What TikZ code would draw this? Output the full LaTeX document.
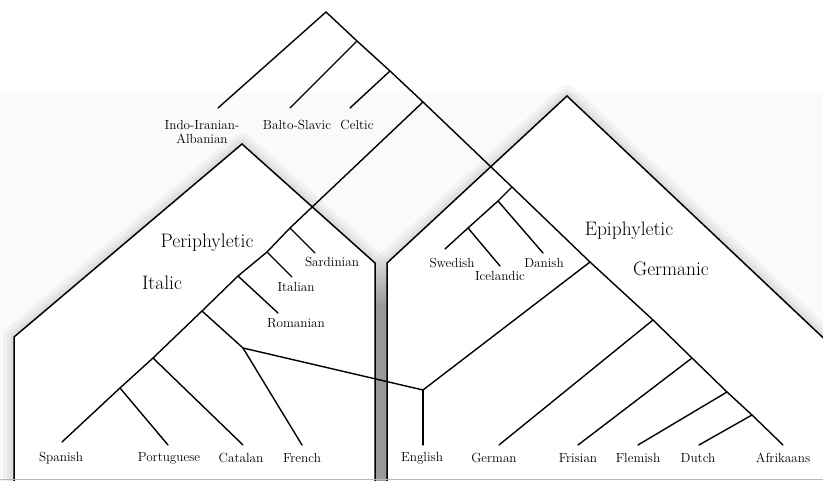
\documentclass[tikz,border=0pt]{standalone}
\begin{document}
\begin{tikzpicture}[x=1pt,y=-1pt,
  branch/.style={line width=1.4pt, line cap=round},
  house/.style={line width=1.5pt, fill=white, line join=miter},
  glow/.style={line width=#1, draw=black, opacity=0.035, line join=round},
  lang/.style={font=\fontsize{13.2}{14}\selectfont, inner sep=0pt, align=center},
  group/.style={font=\fontsize{19.5}{22}\selectfont, inner sep=0pt}]

\useasboundingbox (0,0) rectangle (823,481);
\clip (0,0) rectangle (823,481);
% \draw [help lines, step=50] (0,0) grid (823,481);

\fill[gray!4] (0,93) rectangle (823,481);

% gap between the two houses
\shade[top color=gray!6, bottom color=gray!60] (375,263) rectangle (387,305);
\fill[gray!60] (375,305) rectangle (387,481);

% soft shadows
\foreach \w in {22,14,8} {
  \draw[glow=\w pt] (14,490) -- (14,337) -- (242,144) -- (375,263) -- (375,490);
  \draw[glow=\w pt] (387,490) -- (387,263) -- (567,96) -- (870,382);
}

% the two houses
\draw[house] (14,490) -- (14,337) -- (242,144) -- (375,263) -- (375,490);
\draw[house] (387,490) -- (387,263) -- (567,96) -- (870,382) -- (870,490);

\draw[gray!55, line width=1pt] (0,479.5) -- (823,479.5);

% top of the tree
\coordinate (ie) at (326,12);
\coordinate (bs) at (357,41);
\coordinate (ce) at (390,71);
\coordinate (ig) at (423,102);
\coordinate (iiat) at (218,108);
\coordinate (bst) at (290,108);
\coordinate (cet) at (350,108);

% italic side
\coordinate (sa) at (290,228);
\coordinate (it) at (267,252);
\coordinate (ro) at (238,276);
\coordinate (wr) at (202,311);
\coordinate (ca) at (153,358);
\coordinate (pt) at (120,388);
\coordinate (est) at (62,442);
\coordinate (sat) at (315,253);
\coordinate (itt) at (292,277);
\coordinate (rot) at (278,313);
\coordinate (fr) at (243,348);
\coordinate (frt) at (302,445);
\coordinate (cat) at (243,445);
\coordinate (ptt) at (168,445);

% germanic side
\coordinate (sc) at (512,187);
\coordinate (da) at (498,201);
\coordinate (is) at (468,228);
\coordinate (svt) at (445,249);
\coordinate (dat) at (543,253);
\coordinate (ist) at (500,266);
\coordinate (gm) at (590,262);
\coordinate (de) at (653,320);
\coordinate (fy) at (692,358);
\coordinate (vl) at (727,392);
\coordinate (nl) at (752,415);
\coordinate (aft) at (783,445);
\coordinate (en) at (423,390);
\coordinate (ent) at (423,445);
\coordinate (det) at (499,445);
\coordinate (fyt) at (578,445);
\coordinate (vlt) at (638,445);
\coordinate (nlt) at (699,445);

\draw[branch] (iiat) -- (ie) -- (bs) -- (ce) -- (ig);
\draw[branch] (bs) -- (bst);
\draw[branch] (ce) -- (cet);

\draw[branch] (ig) -- (sa) -- (it) -- (ro) -- (wr) -- (ca) -- (pt) -- (est);
\draw[branch] (sa) -- (sat);
\draw[branch] (it) -- (itt);
\draw[branch] (ro) -- (rot);
\draw[branch] (wr) -- (fr) -- (frt);
\draw[branch] (ca) -- (cat);
\draw[branch] (pt) -- (ptt);

\draw[branch] (ig) -- (sc) -- (gm) -- (de) -- (fy) -- (vl) -- (nl) -- (aft);
\draw[branch] (sc) -- (da) -- (is) -- (svt);
\draw[branch] (da) -- (dat);
\draw[branch] (is) -- (ist);
\draw[branch] (fr) -- (en) -- (gm);
\draw[branch] (en) -- (ent);
\draw[branch] (de) -- (det);
\draw[branch] (fy) -- (fyt);
\draw[branch] (vl) -- (vlt);
\draw[branch] (nl) -- (nlt);

% labels
\node[lang] (iia) at (202,132) {Indo-Iranian-\\Albanian};
\node[lang] (balto) at (297,125) {Balto-Slavic};
\node[lang] (celtic) at (357,125) {Celtic};

\node[lang] (sardinian) at (332,262) {Sardinian};
\node[lang] (italian) at (296,287) {Italian};
\node[lang] (romanian) at (296,323) {Romanian};

\node[lang] (swedish) at (452,263) {Swedish};
\node[lang] (icelandic) at (500,276) {Icelandic};
\node[lang] (danish) at (544,263) {Danish};

\node[lang] (spanish) at (61,458) {Spanish};
\node[lang] (portuguese) at (169,458) {Portuguese};
\node[lang] (catalan) at (241,458) {Catalan};
\node[lang] (french) at (302,458) {French};
\node[lang] (english) at (422,458) {English};
\node[lang] (german) at (494,458) {German};
\node[lang] (frisian) at (578,458) {Frisian};
\node[lang] (flemish) at (638,458) {Flemish};
\node[lang] (dutch) at (698,458) {Dutch};
\node[lang] (afrikaans) at (783,458) {Afrikaans};

\node[group] (peri) at (207,243) {Periphyletic};
\node[group] (italic) at (162,283) {Italic};
\node[group] (epi) at (629,231) {Epiphyletic};
\node[group] (germanic) at (671,269) {Germanic};
\end{tikzpicture}
\end{document}
